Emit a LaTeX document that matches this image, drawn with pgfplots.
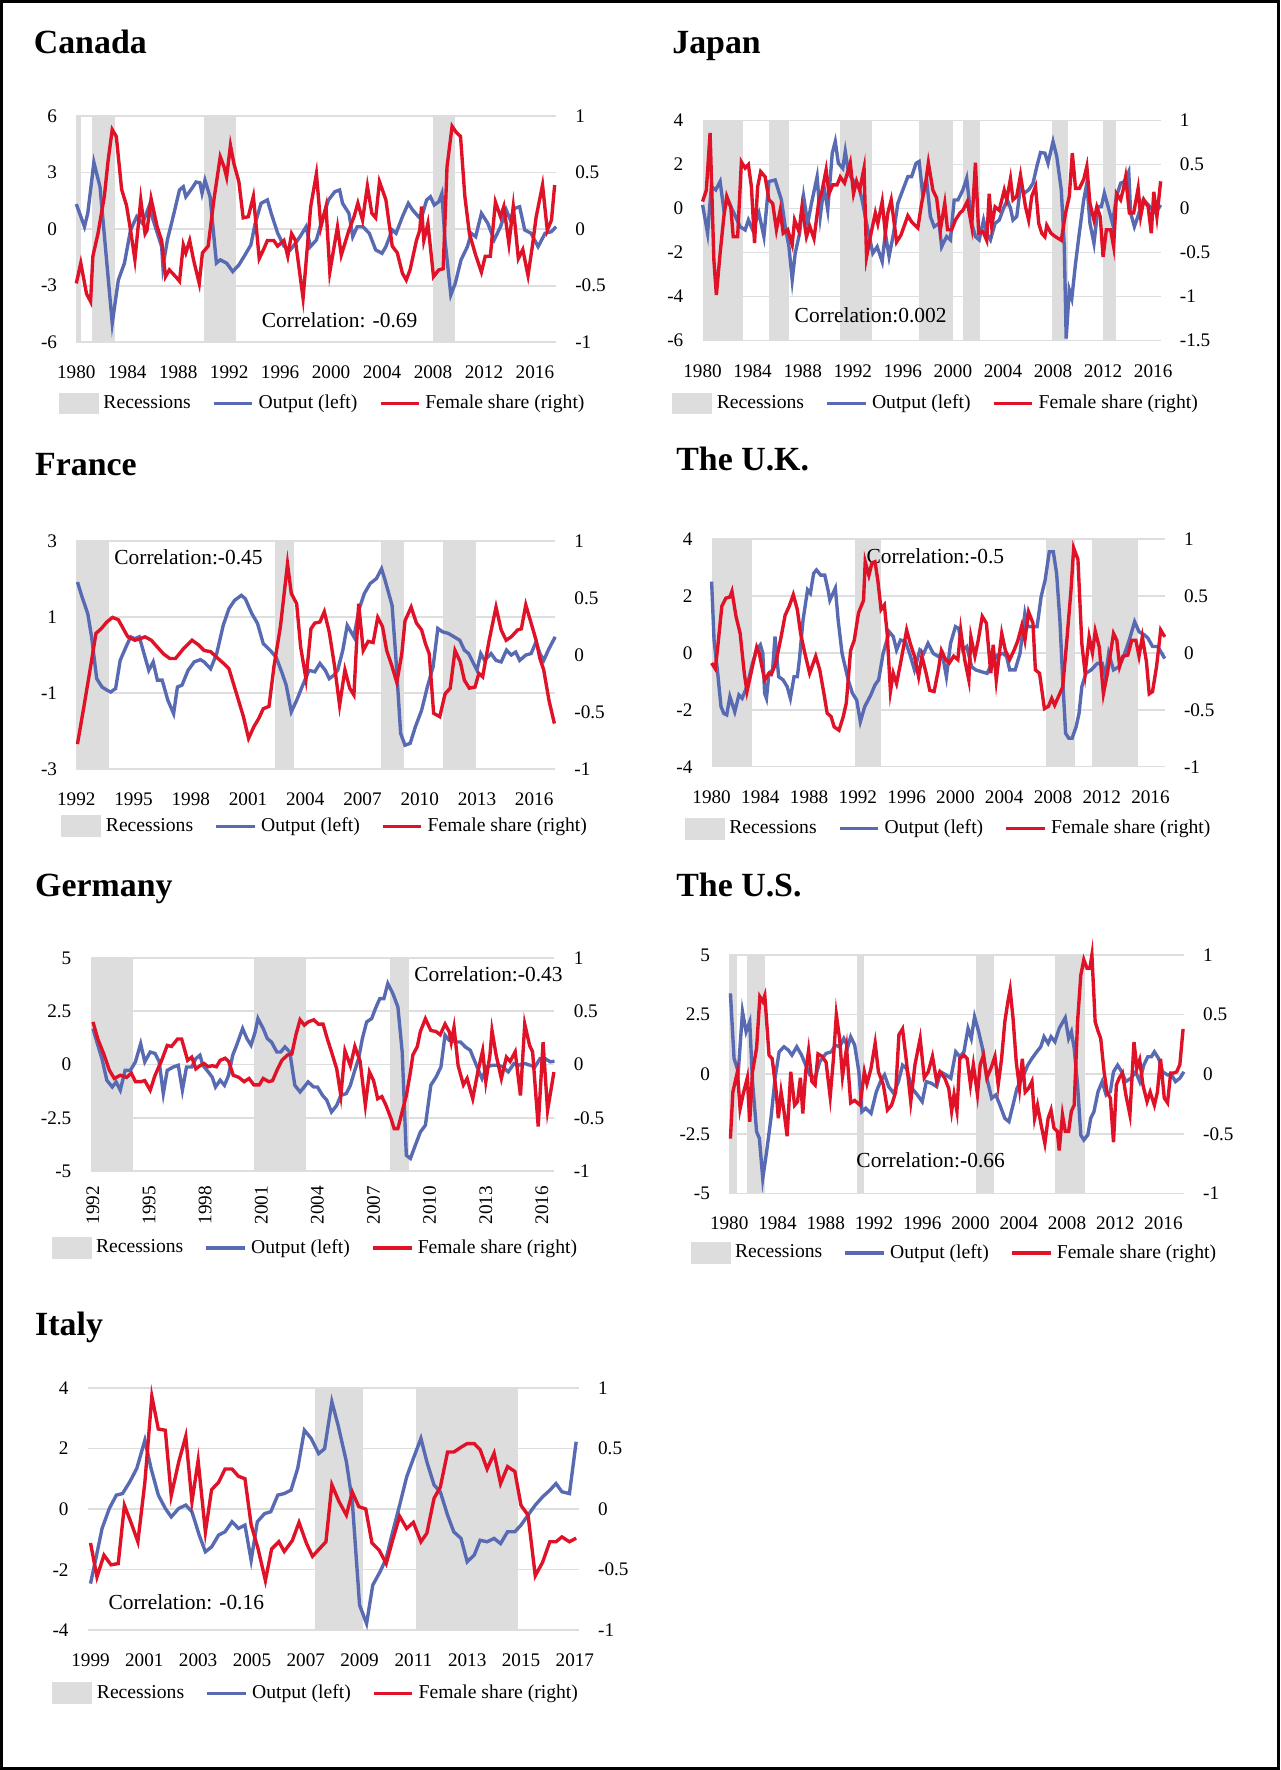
\documentclass[border=0pt]{standalone}
\usepackage{fontspec}
\setmainfont{Liberation Serif}
\usepackage{pgfplots}
\pgfplotsset{compat=1.18}

\definecolor{outc}{RGB}{88,106,178}
\definecolor{femc}{RGB}{224,18,40}
\definecolor{recc}{RGB}{221,221,221}
\definecolor{gridc}{RGB}{222,222,222}

\newcommand\ticksize{\fontsize{8.5}{10}\selectfont}
\newcommand\legsize{\fontsize{8.7}{10}\selectfont}
\newcommand\corrsize{\fontsize{9.5}{11}\selectfont}
\newcommand\titsize{\fontsize{15}{18}\selectfont\bfseries}

\tikzset{corr/.style={font=\corrsize}}
\pgfplotsset{
  panel/.style={scale only axis, anchor=south west, axis line style={draw=none},
    major tick length=0pt, tick style={draw=none},
    /pgf/number format/assume math mode=true, /pgf/number format/1000 sep={},
    tick label style={font=\ticksize}, xticklabel shift=7pt, yticklabel shift=5pt, clip=false},
  leftax/.style={panel, ymajorgrids, grid style={gridc, line width=0.7pt}, yticklabel pos=left,
    legend style={draw=none, fill=none, inner sep=0pt, font=\legsize, legend columns=3, anchor=west,
      /tikz/every even column/.append style={column sep=7.5pt}}},
  rightax/.style={panel, yticklabel pos=right, xtick=\empty},
  outp/.style={color=outc, line width=1.5pt},
  fem/.style={color=femc, line width=1.5pt},
  rec/.style={fill=recc, draw=none},
  recleg/.style={legend image code/.code={\fill[recc] (0pt,-4.8pt) rectangle (17.7pt,4.8pt);}},
}

\begin{document}
\begin{tikzpicture}
\useasboundingbox (0,0) rectangle (567pt,-784pt);
\draw[line width=1.5pt] (0.75pt,-0.75pt) rectangle (566.25pt,-783.25pt);

% titles
\node[anchor=base west, inner sep=0pt, font=\titsize] at (14.8pt,-23.6pt) {Canada};
\node[anchor=base west, inner sep=0pt, font=\titsize] at (297.6pt,-23.6pt) {Japan};
\node[anchor=base west, inner sep=0pt, font=\titsize] at (15.4pt,-210.4pt) {France};
\node[anchor=base west, inner sep=0pt, font=\titsize] at (299.4pt,-208.5pt) {The U.K.};
\node[anchor=base west, inner sep=0pt, font=\titsize] at (15.4pt,-397.2pt) {Germany};
\node[anchor=base west, inner sep=0pt, font=\titsize] at (299.4pt,-397.2pt) {The U.S.};
\node[anchor=base west, inner sep=0pt, font=\titsize] at (15.4pt,-591.4pt) {Italy};

% ---------------- Canada
\begin{axis}[leftax, at={(33.8pt,-151.6pt)}, width=212.5pt, height=100.2pt,
  xmin=1980, xmax=2017.66, ymin=-6, ymax=6, ytick={-6,-3,0,3,6},
  xtick={1980,1984,...,2016}, legend style={at={(-0.037,-0.27)}}]
\addplot[rec, recleg] coordinates {(1980,-6)(1980,6)(1980.4,6)(1980.4,-6)} -- cycle;
\addlegendentry{Recessions}
\addplot[rec, forget plot] coordinates {(1981.2,-6)(1981.2,6)(1983.0,6)(1983.0,-6)} -- cycle;
\addplot[rec, forget plot] coordinates {(1990.0,-6)(1990.0,6)(1992.5,6)(1992.5,-6)} -- cycle;
\addplot[rec, forget plot] coordinates {(2008.0,-6)(2008.0,6)(2009.7,6)(2009.7,-6)} -- cycle;
\addplot[outp] coordinates {(1980.0,1.33)(1980.64,0.13)(1980.9,0.84)(1981.38,3.54)(1981.86,2.25)(1982.82,-4.99)(1983.3,-2.7)(1983.78,-1.8)(1984.26,-0.04)(1984.74,0.66)(1985.2,0.3)(1985.7,1.2)(1986.2,0.13)(1986.7,-0.93)(1986.8,-2.0)(1987.15,-0.57)(1987.6,0.66)(1988.1,2.08)(1988.4,2.25)(1988.6,1.72)(1989.07,2.16)(1989.4,2.5)(1989.7,2.46)(1989.87,1.9)(1990.1,2.6)(1990.5,1.72)(1991.0,-1.8)(1991.3,-1.63)(1991.8,-1.8)(1992.28,-2.25)(1992.76,-1.9)(1993.24,-1.37)(1993.7,-0.84)(1994.04,0.3)(1994.5,1.37)(1995.0,1.55)(1995.3,0.84)(1995.8,-0.2)(1996.3,-0.9)(1996.8,-1.1)(1997.2,-0.75)(1997.56,-0.4)(1998.04,0.13)(1998.37,-0.93)(1998.85,-0.57)(1999.3,0.49)(1999.8,1.55)(2000.3,1.99)(2000.67,2.08)(2000.9,1.37)(2001.4,0.84)(2001.7,-0.4)(2002.05,0.13)(2002.5,0.13)(2003.0,-0.22)(2003.5,-1.1)(2004.0,-1.28)(2004.3,-0.93)(2004.8,-0.04)(2005.1,-0.22)(2005.6,0.66)(2006.06,1.37)(2006.4,1.02)(2006.86,0.66)(2007.2,0.84)(2007.5,1.55)(2007.8,1.72)(2008.1,1.28)(2008.46,1.46)(2008.7,1.9)(2008.94,-0.57)(2009.4,-3.49)(2009.75,-2.87)(2010.2,-1.63)(2010.7,-0.93)(2011.0,-0.22)(2011.35,-0.4)(2011.8,0.84)(2012.3,0.31)(2012.8,-0.57)(2013.3,0.13)(2013.75,1.02)(2014.07,0.49)(2014.4,1.1)(2014.8,1.19)(2015.2,-0.04)(2015.7,-0.22)(2016.25,-0.93)(2016.8,-0.22)(2017.3,-0.13)(2017.66,0.13)};
\addlegendentry{Output (left)}
\addlegendimage{fem}
\addlegendentry{Female share (right)}
\node[corr] at (axis cs:2000.67,-4.85) {Correlation: -0.69};
\end{axis}
\begin{axis}[rightax, at={(33.8pt,-151.6pt)}, width=212.5pt, height=100.2pt,
  xmin=1980, xmax=2017.66, ymin=-1, ymax=1, ytick={-1,-0.5,0,0.5,1}]
\addplot[fem] coordinates {(1980.0,-0.48)(1980.35,-0.30)(1980.8,-0.57)(1981.12,-0.64)(1981.3,-0.24)(1981.7,-0.04)(1982.2,0.29)(1982.5,0.61)(1982.82,0.88)(1983.14,0.82)(1983.56,0.35)(1983.94,0.21)(1984.26,-0.01)(1984.6,-0.27)(1985.06,0.26)(1985.4,-0.04)(1985.55,-0.01)(1985.87,0.27)(1986.35,0.02)(1986.7,-0.10)(1987.0,-0.42)(1987.3,-0.36)(1987.8,-0.42)(1988.1,-0.46)(1988.4,-0.14)(1988.6,-0.21)(1988.9,-0.10)(1989.2,-0.27)(1989.65,-0.48)(1989.9,-0.21)(1990.35,-0.15)(1990.8,0.26)(1991.3,0.64)(1991.6,0.55)(1991.8,0.46)(1992.1,0.74)(1992.37,0.58)(1992.76,0.42)(1993.1,0.10)(1993.5,0.11)(1993.9,0.29)(1994.36,-0.26)(1994.7,-0.18)(1995.0,-0.10)(1995.5,-0.10)(1995.8,-0.15)(1996.3,-0.10)(1996.6,-0.24)(1996.9,-0.04)(1997.2,-0.10)(1997.8,-0.61)(1998.4,0.20)(1998.85,0.49)(1999.2,0.02)(1999.6,0.20)(1999.9,-0.38)(2000.5,0.02)(2000.8,-0.23)(2001.4,-0.01)(2001.8,0.11)(2002.1,0.23)(2002.47,0.08)(2002.85,0.38)(2003.2,0.14)(2003.5,0.10)(2003.8,0.42)(2004.3,0.26)(2004.8,-0.15)(2005.2,-0.21)(2005.6,-0.39)(2005.9,-0.45)(2006.2,-0.36)(2006.7,-0.10)(2006.96,-0.01)(2007.1,0.20)(2007.28,-0.10)(2007.6,0.05)(2008.04,-0.42)(2008.46,-0.36)(2008.8,-0.35)(2009.1,0.55)(2009.5,0.91)(2009.8,0.86)(2010.16,0.82)(2010.5,0.29)(2010.86,-0.04)(2011.35,-0.23)(2011.8,-0.38)(2012.1,-0.24)(2012.5,-0.24)(2012.9,0.24)(2013.3,0.11)(2013.56,0.20)(2013.96,-0.13)(2014.3,0.20)(2014.7,-0.26)(2015.05,-0.18)(2015.46,-0.41)(2015.8,-0.15)(2016.1,0.11)(2016.6,0.39)(2016.97,-0.01)(2017.3,0.08)(2017.55,0.39)};
\end{axis}

% ---------------- Japan
\begin{axis}[leftax, at={(311.2pt,-150.9pt)}, width=202.9pt, height=97.5pt,
  xmin=1980, xmax=2016.6, ymin=-6, ymax=4, ytick={-6,-4,-2,0,2,4},
  xtick={1980,1984,...,2016}, legend style={at={(-0.067,-0.285)}}]
\addplot[rec, recleg] coordinates {(1980,-6)(1980,4)(1983.2,4)(1983.2,-6)} -- cycle;
\addlegendentry{Recessions}
\addplot[rec, forget plot] coordinates {(1985.3,-6)(1985.3,4)(1986.9,4)(1986.9,-6)} -- cycle;
\addplot[rec, forget plot] coordinates {(1991.0,-6)(1991.0,4)(1993.5,4)(1993.5,-6)} -- cycle;
\addplot[rec, forget plot] coordinates {(1997.3,-6)(1997.3,4)(2000.0,4)(2000.0,-6)} -- cycle;
\addplot[rec, forget plot] coordinates {(2000.8,-6)(2000.8,4)(2002.2,4)(2002.2,-6)} -- cycle;
\addplot[rec, forget plot] coordinates {(2007.9,-6)(2007.9,4)(2009.2,4)(2009.2,-6)} -- cycle;
\addplot[rec, forget plot] coordinates {(2012.0,-6)(2012.0,4)(2013.0,4)(2013.0,-6)} -- cycle;
\addplot[outp] coordinates {(1980.0,0.17)(1980.4,-1.12)(1980.7,1.0)(1981.05,0.85)(1981.4,1.23)(1981.7,-0.06)(1982.0,0.39)(1982.5,-0.2)(1983.0,-0.82)(1983.4,-0.97)(1983.66,-0.52)(1984.0,-0.97)(1984.5,-0.2)(1984.9,-1.27)(1985.3,1.23)(1985.8,1.3)(1986.3,0.39)(1986.6,-0.82)(1986.9,-1.73)(1987.16,-3.24)(1987.4,-2.03)(1987.75,-1.12)(1988.07,0.55)(1988.4,-0.67)(1988.7,0.24)(1989.15,1.45)(1989.4,-0.36)(1989.7,1.0)(1990.0,-0.06)(1990.36,2.52)(1990.6,3.05)(1990.85,2.06)(1991.2,1.83)(1991.4,2.6)(1991.67,1.6)(1992.0,1.3)(1992.5,1.0)(1992.8,0.24)(1993.1,-0.67)(1993.6,-2.03)(1993.95,-1.73)(1994.35,-2.41)(1994.6,-1.12)(1994.9,-2.18)(1995.26,-1.12)(1995.6,0.24)(1995.9,0.7)(1996.4,1.45)(1996.7,1.45)(1997.06,2.06)(1997.3,2.14)(1997.55,0.85)(1997.9,1.3)(1998.2,-0.36)(1998.5,-0.82)(1998.9,-0.67)(1999.1,-1.73)(1999.5,-1.27)(1999.8,-1.42)(2000.1,0.39)(2000.4,0.39)(2000.8,0.85)(2001.1,1.38)(2001.5,-0.67)(2001.8,-1.27)(2002.1,-1.42)(2002.45,-0.52)(2002.7,-1.12)(2003.0,-1.42)(2003.37,-0.67)(2003.7,-0.52)(2004.1,0.09)(2004.35,0.39)(2004.6,0.02)(2004.8,-0.52)(2005.1,-0.36)(2005.4,1.0)(2005.7,0.7)(2006.05,0.85)(2006.4,1.15)(2006.7,1.9)(2007.0,2.55)(2007.35,2.52)(2007.6,2.06)(2008.0,3.05)(2008.3,2.36)(2008.66,0.85)(2008.9,-1.73)(2009.05,-5.9)(2009.3,-3.7)(2009.5,-4.08)(2009.8,-2.48)(2010.1,-1.12)(2010.45,0.39)(2010.7,1.15)(2010.95,-0.67)(2011.27,-1.58)(2011.6,0.09)(2011.86,0.09)(2012.1,0.7)(2012.4,0.09)(2012.75,-0.67)(2013.07,0.55)(2013.4,1.15)(2013.7,1.23)(2014.05,1.68)(2014.2,-0.2)(2014.5,-0.82)(2014.87,-0.2)(2015.2,0.39)(2015.5,0.24)(2015.85,0.02)(2016.2,-0.2)(2016.6,0.17)};
\addlegendentry{Output (left)}
\addlegendimage{fem}
\addlegendentry{Female share (right)}
\node[corr] at (axis cs:1993.43,-4.83) {Correlation:0.002};
\end{axis}
\begin{axis}[rightax, at={(311.2pt,-150.9pt)}, width=202.9pt, height=97.5pt,
  xmin=1980, xmax=2016.6, ymin=-1.5, ymax=1, ytick={-1.5,-1,-0.5,0,0.5,1}]
\addplot[fem] coordinates {(1980.0,0.08)(1980.3,0.21)(1980.6,0.86)(1980.9,-0.58)(1981.1,-0.98)(1981.4,-0.51)(1981.7,-0.09)(1981.93,0.14)(1982.25,0.02)(1982.45,-0.32)(1982.8,-0.32)(1983.1,0.53)(1983.4,0.46)(1983.66,0.50)(1983.9,0.25)(1984.15,-0.39)(1984.4,0.25)(1984.64,0.42)(1985.0,0.36)(1985.3,0.10)(1985.6,0.06)(1985.9,-0.24)(1986.2,-0.02)(1986.44,-0.28)(1986.8,-0.24)(1987.16,-0.41)(1987.35,-0.13)(1987.7,-0.26)(1987.94,0.02)(1988.3,-0.32)(1988.56,-0.20)(1988.9,-0.34)(1989.3,0.10)(1989.5,0.17)(1989.87,0.44)(1990.1,0.17)(1990.4,0.27)(1990.75,0.27)(1991.0,0.36)(1991.34,0.29)(1991.8,0.52)(1992.06,0.17)(1992.3,0.31)(1992.55,0.21)(1992.9,0.46)(1993.1,-0.55)(1993.46,-0.28)(1993.8,-0.05)(1994.0,-0.17)(1994.35,0.08)(1994.6,-0.28)(1994.8,-0.05)(1995.07,0.10)(1995.5,-0.38)(1995.85,-0.30)(1996.4,-0.08)(1996.7,-0.15)(1997.2,-0.22)(1997.5,0.06)(1997.8,0.27)(1998.04,0.52)(1998.4,0.21)(1998.7,0.12)(1999.0,-0.24)(1999.35,0.06)(1999.57,-0.24)(1999.9,-0.24)(2000.2,-0.13)(2000.56,-0.05)(2000.8,-0.02)(2001.15,0.08)(2001.5,-0.20)(2001.8,0.52)(2002.06,-0.28)(2002.4,-0.26)(2002.7,-0.36)(2002.9,0.17)(2003.1,-0.20)(2003.37,0.02)(2003.7,-0.02)(2004.1,0.21)(2004.3,0.10)(2004.6,0.34)(2004.8,0.10)(2005.1,0.14)(2005.4,0.38)(2005.8,0.02)(2006.05,-0.13)(2006.3,0.14)(2006.6,0.25)(2006.86,-0.17)(2007.1,-0.28)(2007.35,-0.32)(2007.5,-0.19)(2007.84,-0.28)(2008.2,-0.32)(2008.66,-0.36)(2009.0,-0.05)(2009.3,0.14)(2009.54,0.63)(2009.8,0.23)(2010.1,0.23)(2010.45,0.33)(2010.7,0.48)(2010.95,0.06)(2011.27,-0.13)(2011.5,0.02)(2011.77,-0.09)(2012.0,-0.55)(2012.26,-0.24)(2012.6,-0.24)(2012.84,-0.43)(2013.07,0.17)(2013.4,0.10)(2013.6,0.21)(2013.8,0.36)(2014.1,-0.05)(2014.44,-0.05)(2014.8,0.23)(2015.0,-0.09)(2015.26,0.10)(2015.6,0.02)(2015.85,-0.28)(2016.05,0.19)(2016.3,-0.09)(2016.6,0.31)};
\end{axis}

% ---------------- France
\begin{axis}[leftax, at={(33.8pt,-340.7pt)}, width=212.1pt, height=101.1pt,
  xmin=1992, xmax=2017.1, ymin=-3, ymax=3, ytick={-3,-1,1,3},
  xtick={1992,1995,...,2016}, legend style={at={(-0.032,-0.25)}}]
\addplot[rec, recleg] coordinates {(1992,-3)(1992,3)(1993.7,3)(1993.7,-3)} -- cycle;
\addlegendentry{Recessions}
\addplot[rec, forget plot] coordinates {(2002.4,-3)(2002.4,3)(2003.4,3)(2003.4,-3)} -- cycle;
\addplot[rec, forget plot] coordinates {(2007.95,-3)(2007.95,3)(2009.2,3)(2009.2,-3)} -- cycle;
\addplot[rec, forget plot] coordinates {(2011.2,-3)(2011.2,3)(2012.95,3)(2012.95,-3)} -- cycle;
\addplot[outp] coordinates {(1992.06,1.92)(1992.3,1.53)(1992.6,1.09)(1992.8,0.48)(1993.07,-0.62)(1993.35,-0.84)(1993.6,-0.92)(1993.8,-0.97)(1994.06,-0.88)(1994.3,-0.14)(1994.6,0.21)(1994.85,0.48)(1995.07,0.43)(1995.3,0.48)(1995.6,-0.05)(1995.8,-0.40)(1996.03,-0.18)(1996.25,-0.66)(1996.5,-0.66)(1996.8,-1.19)(1997.1,-1.54)(1997.3,-0.84)(1997.54,-0.79)(1997.86,-0.40)(1998.18,-0.18)(1998.5,-0.12)(1998.7,-0.18)(1999.04,-0.36)(1999.36,0.04)(1999.7,0.78)(2000.0,1.22)(2000.3,1.44)(2000.65,1.57)(2000.86,1.48)(2001.2,1.09)(2001.5,0.83)(2001.8,0.30)(2002.15,0.13)(2002.47,-0.05)(2002.8,-0.49)(2003.0,-0.79)(2003.27,-1.49)(2003.55,-1.19)(2003.87,-0.79)(2004.2,-0.40)(2004.5,-0.44)(2004.77,-0.22)(2005.05,-0.40)(2005.26,-0.62)(2005.5,-0.53)(2005.7,-0.40)(2005.97,0.13)(2006.2,0.78)(2006.55,0.48)(2006.83,1.22)(2007.1,1.62)(2007.4,1.88)(2007.73,2.01)(2008.0,2.27)(2008.16,2.01)(2008.55,1.31)(2008.76,-0.14)(2009.0,-2.06)(2009.23,-2.37)(2009.5,-2.32)(2009.77,-1.89)(2010.1,-1.45)(2010.4,-0.84)(2010.7,-0.31)(2010.95,0.70)(2011.2,0.61)(2011.5,0.57)(2011.8,0.48)(2012.1,0.39)(2012.34,0.13)(2012.56,0.04)(2013.0,-0.40)(2013.2,0.04)(2013.4,-0.14)(2013.74,0.04)(2014.0,-0.14)(2014.27,-0.18)(2014.55,0.13)(2014.8,0.00)(2015.03,0.08)(2015.24,-0.14)(2015.56,0.00)(2015.84,0.04)(2016.1,0.35)(2016.3,0.04)(2016.5,-0.14)(2016.74,0.13)(2017.1,0.48)};
\addlegendentry{Output (left)}
\addlegendimage{fem}
\addlegendentry{Female share (right)}
\node[corr] at (axis cs:1997.88,2.58) {Correlation:-0.45};
\end{axis}
\begin{axis}[rightax, at={(33.8pt,-340.7pt)}, width=212.1pt, height=101.1pt,
  xmin=1992, xmax=2017.1, ymin=-1, ymax=1, ytick={-1,-0.5,0,0.5,1}]
\addplot[fem] coordinates {(1992.06,-0.78)(1992.4,-0.45)(1992.75,-0.10)(1993.03,0.19)(1993.3,0.23)(1993.6,0.29)(1993.9,0.33)(1994.2,0.31)(1994.4,0.25)(1994.7,0.16)(1995.07,0.13)(1995.3,0.14)(1995.6,0.16)(1995.93,0.13)(1996.25,0.07)(1996.57,0.01)(1996.9,-0.03)(1997.2,-0.03)(1997.64,0.06)(1998.07,0.13)(1998.4,0.09)(1998.7,0.04)(1999.04,0.03)(1999.36,-0.02)(1999.7,-0.07)(2000.0,-0.12)(2000.4,-0.34)(2000.76,-0.54)(2001.03,-0.73)(2001.3,-0.63)(2001.55,-0.56)(2001.8,-0.47)(2002.1,-0.45)(2002.36,-0.10)(2002.7,0.25)(2003.07,0.80)(2003.27,0.54)(2003.55,0.45)(2003.76,0.07)(2004.04,-0.21)(2004.3,0.23)(2004.5,0.28)(2004.77,0.29)(2005.0,0.38)(2005.26,0.20)(2005.54,-0.10)(2005.8,-0.44)(2006.08,-0.13)(2006.33,-0.29)(2006.55,-0.35)(2006.8,0.45)(2007.04,0.04)(2007.3,0.12)(2007.56,0.11)(2007.8,0.33)(2008.05,0.25)(2008.27,0.04)(2008.55,-0.10)(2008.8,-0.24)(2009.06,0.01)(2009.23,0.30)(2009.55,0.42)(2009.83,0.28)(2010.1,0.22)(2010.3,0.10)(2010.5,0.01)(2010.73,-0.51)(2011.05,-0.54)(2011.33,-0.34)(2011.6,-0.29)(2011.85,0.04)(2012.13,-0.06)(2012.34,-0.22)(2012.6,-0.29)(2012.9,-0.28)(2013.1,-0.16)(2013.3,-0.19)(2013.64,0.13)(2014.0,0.42)(2014.27,0.22)(2014.53,0.13)(2014.8,0.16)(2015.13,0.22)(2015.33,0.23)(2015.56,0.44)(2015.84,0.28)(2016.1,0.13)(2016.3,-0.03)(2016.5,-0.13)(2016.78,-0.40)(2017.06,-0.60)};
\end{axis}

% ---------------- U.K.
\begin{axis}[leftax, at={(315.2pt,-339.6pt)}, width=200.7pt, height=100.9pt,
  xmin=1980, xmax=2017.17, ymin=-4, ymax=4, ytick={-4,-2,0,2,4},
  xtick={1980,1984,...,2016}, legend style={at={(-0.060,-0.272)}}]
\addplot[rec, recleg] coordinates {(1980.07,-4)(1980.07,4)(1983.35,4)(1983.35,-4)} -- cycle;
\addlegendentry{Recessions}
\addplot[rec, forget plot] coordinates {(1991.8,-4)(1991.8,4)(1993.9,4)(1993.9,-4)} -- cycle;
\addplot[rec, forget plot] coordinates {(2007.46,-4)(2007.46,4)(2009.8,4)(2009.8,-4)} -- cycle;
\addplot[rec, forget plot] coordinates {(2011.2,-4)(2011.2,4)(2015.0,4)(2015.0,-4)} -- cycle;
\addplot[outp] coordinates {(1980.0,2.5)(1980.2,0.45)(1980.5,-0.72)(1980.77,-1.89)(1981.0,-2.13)(1981.24,-2.18)(1981.5,-1.54)(1981.9,-2.07)(1982.24,-1.48)(1982.5,-1.6)(1982.9,-1.19)(1983.35,-0.37)(1983.7,0.10)(1984.0,0.28)(1984.2,-0.02)(1984.35,-1.42)(1984.5,-1.6)(1984.7,-0.72)(1985.0,-0.6)(1985.2,0.57)(1985.5,-0.84)(1985.86,-0.95)(1986.2,-1.19)(1986.46,-1.6)(1986.76,-0.84)(1987.03,-0.84)(1987.2,-0.25)(1987.5,1.15)(1987.87,2.21)(1988.1,2.09)(1988.37,2.79)(1988.6,2.91)(1988.94,2.73)(1989.28,2.73)(1989.55,2.21)(1989.7,1.85)(1990.15,2.27)(1990.38,1.15)(1990.7,-0.02)(1991.2,-0.95)(1991.55,-1.42)(1991.9,-1.66)(1992.2,-2.42)(1992.56,-1.89)(1993.06,-1.48)(1993.4,-1.13)(1993.7,-0.95)(1994.07,-0.02)(1994.57,0.74)(1994.9,0.57)(1995.17,0.10)(1995.5,0.45)(1995.9,0.39)(1996.24,-0.02)(1996.64,-0.6)(1997.08,0.10)(1997.4,-0.02)(1997.75,0.33)(1998.18,-0.02)(1998.6,-0.13)(1998.92,-0.02)(1999.26,-0.84)(1999.6,0.33)(2000.0,0.92)(2000.26,0.86)(2000.6,0.10)(2000.93,0.22)(2001.33,-0.49)(2001.67,-0.6)(2002.1,-0.66)(2002.6,-0.72)(2003.0,-0.37)(2003.44,-0.08)(2003.9,-0.02)(2004.2,-0.13)(2004.45,-0.6)(2004.9,-0.6)(2005.3,-0.02)(2005.7,1.39)(2005.95,0.92)(2006.3,0.92)(2006.7,0.92)(2007.03,1.97)(2007.36,2.56)(2007.7,3.55)(2008.03,3.55)(2008.3,2.79)(2008.57,1.15)(2008.8,-0.95)(2009.04,-2.83)(2009.3,-3.0)(2009.57,-3.0)(2009.9,-2.6)(2010.14,-2.13)(2010.37,-1.19)(2010.7,-0.72)(2011.14,-0.6)(2011.64,-0.37)(2012.04,-0.37)(2012.3,-0.84)(2012.57,-0.02)(2012.97,-0.6)(2013.4,-0.49)(2013.8,-0.13)(2014.26,0.45)(2014.7,1.09)(2015.06,0.74)(2015.5,0.63)(2015.8,0.51)(2016.17,0.22)(2016.6,0.22)(2017.17,-0.2)};
\addlegendentry{Output (left)}
\addlegendimage{fem}
\addlegendentry{Female share (right)}
\node[corr] at (axis cs:1998.35,3.40) {Correlation:-0.5};
\end{axis}
\begin{axis}[rightax, at={(315.2pt,-339.6pt)}, width=200.7pt, height=100.9pt,
  xmin=1980, xmax=2017.17, ymin=-1, ymax=1, ytick={-1,-0.5,0,0.5,1}]
\addplot[fem] coordinates {(1980.0,-0.09)(1980.3,-0.14)(1980.5,0.05)(1980.84,0.41)(1981.17,0.48)(1981.5,0.49)(1981.67,0.54)(1982.0,0.32)(1982.34,0.17)(1982.68,-0.18)(1982.9,-0.34)(1983.35,-0.12)(1983.7,0.05)(1983.9,0.00)(1984.35,-0.24)(1984.7,-0.18)(1984.9,-0.19)(1985.26,-0.09)(1985.7,0.14)(1986.03,0.33)(1986.37,0.41)(1986.7,0.51)(1987.03,0.38)(1987.3,0.17)(1987.64,0.00)(1988.04,-0.18)(1988.54,-0.03)(1988.87,-0.15)(1989.2,-0.35)(1989.48,-0.53)(1989.8,-0.56)(1990.05,-0.65)(1990.45,-0.68)(1990.8,-0.56)(1991.05,-0.44)(1991.4,0.02)(1991.7,0.11)(1992.05,0.35)(1992.46,0.46)(1992.6,0.80)(1992.9,0.68)(1993.16,0.79)(1993.4,0.80)(1993.63,0.64)(1993.9,0.38)(1994.17,0.42)(1994.4,0.17)(1994.67,-0.34)(1994.9,-0.18)(1995.17,-0.27)(1995.5,-0.09)(1996.0,0.20)(1996.3,0.08)(1996.64,-0.03)(1996.98,-0.21)(1997.25,-0.03)(1997.6,-0.18)(1997.9,-0.33)(1998.25,-0.34)(1998.6,-0.15)(1998.85,0.02)(1999.2,-0.06)(1999.5,-0.09)(1999.86,-0.03)(2000.2,-0.06)(2000.43,0.20)(2000.76,-0.06)(2001.1,-0.24)(2001.27,0.14)(2001.6,-0.03)(2001.87,0.11)(2002.2,0.32)(2002.54,0.26)(2002.9,-0.18)(2003.1,0.07)(2003.35,-0.24)(2003.8,0.17)(2004.1,0.02)(2004.45,-0.06)(2004.8,0.02)(2005.1,0.10)(2005.45,0.24)(2005.7,0.11)(2006.0,0.36)(2006.36,0.26)(2006.56,-0.15)(2006.9,-0.18)(2007.3,-0.49)(2007.63,-0.47)(2007.9,-0.40)(2008.14,-0.46)(2008.47,-0.38)(2008.8,-0.30)(2009.14,0.11)(2009.48,0.55)(2009.7,0.92)(2010.05,0.82)(2010.37,0.08)(2010.64,-0.18)(2010.97,0.14)(2011.24,0.00)(2011.47,0.19)(2011.8,0.05)(2012.14,-0.36)(2012.47,-0.18)(2012.97,0.17)(2013.24,0.11)(2013.47,-0.12)(2013.74,-0.03)(2014.14,-0.02)(2014.47,0.11)(2014.8,0.11)(2015.06,-0.03)(2015.33,0.14)(2015.67,-0.08)(2015.9,-0.36)(2016.17,-0.34)(2016.5,-0.12)(2016.84,0.20)(2017.17,0.14)};
\end{axis}

% ---------------- Germany
\begin{axis}[leftax, at={(40.1pt,-518.8pt)}, width=205.5pt, height=94.5pt,
  xmin=1991.87, xmax=2016.67, ymin=-5, ymax=5, ytick={-5,-2.5,0,2.5,5},
  xtick={1992,1995,...,2016}, xticklabel style={rotate=90, anchor=east}, xticklabel shift=3pt,
  legend style={at={(-0.085,-0.36)}}]
\addplot[rec, recleg] coordinates {(1991.87,-5)(1991.87,5)(1994.16,5)(1994.16,-5)} -- cycle;
\addlegendentry{Recessions}
\addplot[rec, forget plot] coordinates {(2000.6,-5)(2000.6,5)(2003.4,5)(2003.4,-5)} -- cycle;
\addplot[rec, forget plot] coordinates {(2007.87,-5)(2007.87,5)(2008.9,5)(2008.9,-5)} -- cycle;
\addplot[outp] coordinates {(1992.0,1.69)(1992.26,0.91)(1992.48,0.28)(1992.74,-0.73)(1993.03,-1.05)(1993.24,-0.81)(1993.46,-1.2)(1993.72,-0.27)(1994.0,-0.27)(1994.27,0.13)(1994.55,0.98)(1994.77,0.13)(1995.06,0.59)(1995.32,0.52)(1995.54,0.13)(1995.76,-1.36)(1995.97,-0.27)(1996.3,-0.11)(1996.56,-0.03)(1996.78,-1.2)(1997.0,-0.11)(1997.28,-0.11)(1997.5,0.28)(1997.72,0.44)(1997.87,-0.03)(1998.16,-0.34)(1998.37,-0.58)(1998.55,-1.05)(1998.8,-0.73)(1999.03,-0.97)(1999.25,-0.5)(1999.47,0.44)(1999.68,0.91)(2000.0,1.69)(2000.23,1.22)(2000.45,0.91)(2000.67,1.53)(2000.82,2.16)(2001.1,1.69)(2001.32,1.22)(2001.54,1.06)(2001.83,0.59)(2002.04,0.59)(2002.26,0.83)(2002.52,0.59)(2002.79,-0.97)(2003.07,-1.28)(2003.29,-1.05)(2003.5,-0.81)(2003.8,-1.05)(2004.0,-1.05)(2004.27,-1.44)(2004.5,-1.67)(2004.75,-2.22)(2005.03,-1.91)(2005.25,-1.44)(2005.54,-1.36)(2005.76,-0.97)(2005.97,-0.34)(2006.2,0.28)(2006.4,1.22)(2006.63,2.0)(2006.9,2.16)(2007.1,2.63)(2007.33,3.09)(2007.55,3.09)(2007.76,3.8)(2008.03,3.33)(2008.3,2.7)(2008.53,0.59)(2008.75,-4.25)(2008.97,-4.4)(2009.23,-3.78)(2009.5,-3.16)(2009.77,-2.84)(2010.06,-0.97)(2010.34,-0.58)(2010.6,-0.11)(2010.82,1.38)(2011.04,1.14)(2011.37,1.06)(2011.65,1.06)(2011.9,0.83)(2012.17,0.67)(2012.35,0.28)(2012.57,-0.19)(2012.8,-0.66)(2013.05,-0.11)(2013.33,-0.03)(2013.66,-0.03)(2013.92,-0.11)(2014.2,-0.34)(2014.5,0.05)(2014.75,-0.03)(2015.08,0.05)(2015.37,-0.03)(2015.62,-0.11)(2015.9,0.28)(2016.17,0.28)(2016.45,0.13)(2016.67,0.16)};
\addlegendentry{Output (left)}
\addlegendimage{fem}
\addlegendentry{Female share (right)}
\node[corr] at (axis cs:2013.14,4.22) {Correlation:-0.43};
\end{axis}
\begin{axis}[rightax, at={(40.1pt,-518.8pt)}, width=205.5pt, height=94.5pt,
  xmin=1991.87, xmax=2016.67, ymin=-1, ymax=1, ytick={-1,-0.5,0,0.5,1}]
\addplot[fem] coordinates {(1992.0,0.40)(1992.26,0.24)(1992.6,0.09)(1992.87,-0.05)(1993.14,-0.13)(1993.46,-0.10)(1993.8,-0.12)(1994.05,-0.08)(1994.27,-0.16)(1994.55,-0.16)(1994.77,-0.15)(1995.06,-0.24)(1995.32,-0.10)(1995.65,0.03)(1995.97,0.18)(1996.2,0.17)(1996.52,0.24)(1996.74,0.24)(1997.06,0.04)(1997.28,0.07)(1997.5,-0.04)(1997.72,-0.01)(1997.94,0.01)(1998.16,-0.02)(1998.37,-0.01)(1998.6,-0.02)(1998.8,0.04)(1999.07,0.06)(1999.25,0.03)(1999.5,-0.10)(1999.8,-0.12)(2000.08,-0.16)(2000.34,-0.13)(2000.6,-0.19)(2000.89,-0.19)(2001.1,-0.13)(2001.4,-0.16)(2001.6,-0.15)(2001.87,-0.04)(2002.1,0.04)(2002.4,0.09)(2002.63,0.10)(2002.85,0.28)(2003.07,0.42)(2003.3,0.37)(2003.5,0.40)(2003.8,0.42)(2004.05,0.38)(2004.3,0.38)(2004.53,0.24)(2004.75,0.12)(2005.03,-0.04)(2005.25,-0.29)(2005.47,0.13)(2005.76,-0.01)(2006.0,0.17)(2006.28,0.03)(2006.56,-0.38)(2006.78,-0.07)(2007.0,-0.15)(2007.22,-0.32)(2007.44,-0.30)(2007.66,-0.38)(2007.94,-0.51)(2008.1,-0.60)(2008.3,-0.60)(2008.53,-0.44)(2008.75,-0.29)(2008.97,-0.07)(2009.1,0.09)(2009.34,0.17)(2009.5,0.31)(2009.77,0.43)(2010.06,0.32)(2010.34,0.31)(2010.56,0.28)(2010.82,0.38)(2011.04,0.31)(2011.15,0.21)(2011.3,0.35)(2011.52,-0.01)(2011.8,-0.19)(2012.0,-0.13)(2012.3,-0.32)(2012.57,-0.07)(2012.83,0.13)(2013.0,-0.16)(2013.22,0.09)(2013.33,0.32)(2013.55,0.09)(2013.83,-0.13)(2014.1,0.07)(2014.3,0.03)(2014.57,0.12)(2014.85,-0.29)(2015.08,0.38)(2015.34,0.18)(2015.5,0.12)(2015.8,-0.58)(2016.06,0.21)(2016.3,-0.43)(2016.64,-0.07)};
\end{axis}

% ---------------- U.S.
\begin{axis}[leftax, at={(323.0pt,-528.6pt)}, width=201.4pt, height=105.6pt,
  xmin=1980, xmax=2017.7, ymin=-5, ymax=5, ytick={-5,-2.5,0,2.5,5},
  xtick={1980,1984,...,2016}, legend style={at={(-0.086,-0.25)}}]
\addplot[rec, recleg] coordinates {(1980.0,-5)(1980.0,5)(1980.68,5)(1980.68,-5)} -- cycle;
\addlegendentry{Recessions}
\addplot[rec, forget plot] coordinates {(1981.5,-5)(1981.5,5)(1982.95,5)(1982.95,-5)} -- cycle;
\addplot[rec, forget plot] coordinates {(1990.58,-5)(1990.58,5)(1991.2,5)(1991.2,-5)} -- cycle;
\addplot[rec, forget plot] coordinates {(2000.47,-5)(2000.47,5)(2001.93,5)(2001.93,-5)} -- cycle;
\addplot[rec, forget plot] coordinates {(2007.0,-5)(2007.0,5)(2009.46,5)(2009.46,-5)} -- cycle;
\addplot[outp] coordinates {(1980.1,3.39)(1980.4,0.66)(1980.75,0.10)(1981.1,2.62)(1981.4,1.78)(1981.7,2.20)(1981.93,-0.31)(1982.27,-2.41)(1982.5,-2.69)(1982.78,-4.37)(1983.1,-3.25)(1983.46,-1.85)(1983.8,-0.17)(1984.14,0.94)(1984.54,1.15)(1984.9,1.01)(1985.2,0.80)(1985.6,1.15)(1986.0,0.80)(1986.34,0.38)(1986.68,-0.03)(1987.12,-0.17)(1987.5,0.52)(1988.03,0.87)(1988.47,0.94)(1988.8,1.22)(1989.15,1.15)(1989.5,1.50)(1989.83,1.15)(1990.07,1.57)(1990.4,1.22)(1990.75,0.10)(1991.0,-1.57)(1991.32,-1.43)(1991.76,-1.64)(1992.2,-0.73)(1992.54,-0.31)(1992.88,-0.03)(1993.22,-0.52)(1993.63,-0.80)(1994.03,-0.31)(1994.37,0.38)(1994.7,0.24)(1995.15,-0.59)(1995.6,-0.87)(1996.0,-1.15)(1996.34,-0.31)(1996.75,-0.38)(1997.2,-0.52)(1997.52,0.10)(1997.97,-0.03)(1998.37,-0.17)(1998.78,0.94)(1999.12,0.73)(1999.46,0.94)(1999.8,1.92)(2000.07,1.50)(2000.34,2.41)(2000.68,1.78)(2001.0,1.08)(2001.36,-0.17)(2001.76,-1.01)(2002.1,-0.87)(2002.44,-1.29)(2002.85,-1.85)(2003.19,-1.99)(2003.53,-1.29)(2003.86,-0.59)(2004.3,-0.17)(2004.75,0.38)(2005.1,0.66)(2005.5,0.94)(2005.83,1.15)(2006.1,1.57)(2006.44,1.29)(2006.68,1.57)(2007.0,1.36)(2007.36,1.92)(2007.86,2.37)(2008.14,1.50)(2008.37,1.78)(2008.6,1.08)(2008.88,-0.45)(2009.15,-2.55)(2009.4,-2.76)(2009.73,-2.55)(2009.97,-1.85)(2010.24,-1.57)(2010.58,-0.73)(2010.92,-0.31)(2011.25,-0.87)(2011.6,-0.73)(2011.86,0.10)(2012.2,0.38)(2012.54,0.10)(2012.88,-0.31)(2013.3,-0.17)(2013.7,0.10)(2014.03,-0.31)(2014.37,0.38)(2014.7,0.73)(2015.0,0.73)(2015.25,0.94)(2015.6,0.66)(2015.93,0.10)(2016.34,-0.03)(2016.68,-0.03)(2017.0,-0.31)(2017.36,-0.17)(2017.7,0.10)};
\addlegendentry{Output (left)}
\addlegendimage{fem}
\addlegendentry{Female share (right)}
\node[corr] at (axis cs:1996.7,-3.6) {Correlation:-0.66};
\end{axis}
\begin{axis}[rightax, at={(323.0pt,-528.6pt)}, width=201.4pt, height=105.6pt,
  xmin=1980, xmax=2017.7, ymin=-1, ymax=1, ytick={-1,-0.5,0,0.5,1}]
\addplot[fem] coordinates {(1980.1,-0.54)(1980.3,-0.15)(1980.68,0.02)(1980.9,-0.29)(1981.15,-0.17)(1981.5,-0.03)(1981.7,-0.40)(1981.93,0.02)(1982.27,0.22)(1982.54,0.65)(1982.78,0.61)(1982.95,0.66)(1983.3,0.16)(1983.56,0.13)(1983.9,-0.15)(1984.07,-0.37)(1984.3,-0.15)(1984.54,-0.31)(1984.8,-0.52)(1985.1,0.02)(1985.42,-0.26)(1985.66,-0.23)(1985.9,-0.03)(1986.1,-0.33)(1986.34,0.02)(1986.58,0.20)(1986.85,-0.06)(1987.12,-0.09)(1987.36,0.17)(1987.7,0.15)(1988.03,0.10)(1988.37,-0.19)(1988.64,0.13)(1988.88,0.50)(1989.15,0.30)(1989.39,-0.02)(1989.73,0.22)(1990.07,-0.24)(1990.4,-0.22)(1990.85,-0.26)(1991.2,0.02)(1991.42,-0.08)(1991.76,0.05)(1992.1,0.26)(1992.37,0.02)(1992.78,-0.09)(1993.12,-0.30)(1993.46,-0.26)(1993.8,-0.15)(1994.07,0.33)(1994.37,0.38)(1994.7,0.10)(1995.05,-0.23)(1995.4,0.08)(1995.83,0.30)(1996.17,-0.03)(1996.5,0.02)(1996.85,0.15)(1997.2,-0.06)(1997.46,0.02)(1997.86,-0.03)(1998.2,-0.12)(1998.44,-0.31)(1998.64,-0.17)(1998.88,-0.31)(1999.12,0.13)(1999.46,0.16)(1999.73,0.13)(2000.0,-0.09)(2000.24,0.08)(2000.58,-0.17)(2000.81,0.08)(2001.08,0.16)(2001.36,-0.03)(2001.7,0.05)(2002.03,0.15)(2002.3,-0.09)(2002.58,0.13)(2002.85,0.44)(2003.12,0.62)(2003.29,0.71)(2003.53,0.47)(2003.8,0.10)(2004.07,-0.12)(2004.3,0.13)(2004.54,-0.15)(2004.81,-0.12)(2005.1,-0.06)(2005.32,-0.37)(2005.56,-0.26)(2005.83,-0.41)(2006.17,-0.58)(2006.44,-0.37)(2006.68,-0.30)(2006.92,-0.45)(2007.2,-0.48)(2007.36,-0.64)(2007.63,-0.34)(2007.86,-0.48)(2008.14,-0.48)(2008.37,-0.31)(2008.6,-0.26)(2008.88,0.44)(2009.15,0.83)(2009.4,0.96)(2009.66,0.89)(2009.9,0.89)(2010.07,1.00)(2010.34,0.44)(2010.58,0.36)(2010.8,0.30)(2011.08,0.02)(2011.32,-0.15)(2011.6,-0.20)(2011.86,-0.57)(2012.1,-0.09)(2012.34,-0.03)(2012.6,0.01)(2012.88,-0.17)(2013.22,-0.34)(2013.56,0.27)(2013.8,0.05)(2014.03,0.12)(2014.3,-0.09)(2014.64,-0.23)(2014.9,-0.15)(2015.25,-0.26)(2015.5,-0.15)(2015.76,0.13)(2016.07,-0.20)(2016.34,-0.24)(2016.6,0.01)(2016.85,0.01)(2017.1,0.02)(2017.36,0.08)(2017.63,0.38)};
\end{axis}

% ---------------- Italy
\begin{axis}[leftax, at={(38.9pt,-722.1pt)}, width=217.5pt, height=107.4pt,
  xmin=1998.9, xmax=2017.15, ymin=-4, ymax=4, ytick={-4,-2,0,2,4},
  xtick={1999,2001,...,2017}, legend style={at={(-0.073,-0.26)}}]
\addplot[rec, recleg] coordinates {(2007.33,-4)(2007.33,4)(2009.12,4)(2009.12,-4)} -- cycle;
\addlegendentry{Recessions}
\addplot[rec, forget plot] coordinates {(2011.08,-4)(2011.08,4)(2014.9,4)(2014.9,-4)} -- cycle;
\addplot[outp] coordinates {(1999.0,-2.46)(1999.2,-1.63)(1999.43,-0.64)(1999.7,0.02)(1999.96,0.46)(2000.19,0.51)(2000.46,0.90)(2000.72,1.34)(2001.02,2.27)(2001.25,1.34)(2001.52,0.46)(2001.78,0.02)(2002.0,-0.26)(2002.28,0.02)(2002.54,0.13)(2002.77,-0.09)(2003.04,-0.86)(2003.27,-1.41)(2003.5,-1.25)(2003.76,-0.86)(2004.0,-0.75)(2004.26,-0.42)(2004.5,-0.64)(2004.74,-0.53)(2004.97,-1.69)(2005.2,-0.42)(2005.47,-0.15)(2005.7,-0.09)(2005.96,0.46)(2006.2,0.51)(2006.45,0.62)(2006.7,1.34)(2006.95,2.60)(2007.2,2.33)(2007.48,1.83)(2007.7,1.99)(2007.97,3.54)(2008.2,2.77)(2008.51,1.56)(2008.73,0.24)(2009.0,-3.17)(2009.26,-3.78)(2009.49,-2.51)(2009.76,-2.07)(2009.99,-1.63)(2010.2,-0.86)(2010.49,0.13)(2010.75,1.06)(2011.0,1.67)(2011.28,2.33)(2011.5,1.56)(2011.77,0.79)(2012.0,0.57)(2012.27,-0.20)(2012.5,-0.75)(2012.77,-0.97)(2013.0,-1.74)(2013.26,-1.52)(2013.48,-1.03)(2013.74,-1.08)(2014.0,-0.97)(2014.24,-1.14)(2014.5,-0.75)(2014.77,-0.75)(2015.0,-0.53)(2015.26,-0.20)(2015.53,0.13)(2015.8,0.40)(2016.07,0.62)(2016.3,0.84)(2016.52,0.57)(2016.8,0.51)(2017.05,2.22)};
\addlegendentry{Output (left)}
\addlegendimage{fem}
\addlegendentry{Female share (right)}
\node[corr] at (axis cs:2002.56,-3.06) {Correlation: -0.16};
\end{axis}
\begin{axis}[rightax, at={(38.9pt,-722.1pt)}, width=217.5pt, height=107.4pt,
  xmin=1998.9, xmax=2017.15, ymin=-1, ymax=1, ytick={-1,-0.5,0,0.5,1}]
\addplot[fem] coordinates {(1999.0,-0.28)(1999.24,-0.56)(1999.5,-0.38)(1999.76,-0.46)(2000.03,-0.45)(2000.26,0.03)(2000.52,-0.12)(2000.76,-0.27)(2001.02,0.22)(2001.28,0.93)(2001.52,0.66)(2001.78,0.65)(2002.0,0.11)(2002.28,0.39)(2002.54,0.60)(2002.77,0.06)(2003.0,0.40)(2003.27,-0.19)(2003.5,0.16)(2003.76,0.22)(2004.0,0.33)(2004.26,0.33)(2004.5,0.27)(2004.74,0.25)(2004.97,-0.13)(2005.23,-0.33)(2005.5,-0.59)(2005.73,-0.33)(2006.0,-0.27)(2006.2,-0.35)(2006.5,-0.26)(2006.75,-0.11)(2007.02,-0.28)(2007.25,-0.39)(2007.5,-0.33)(2007.75,-0.27)(2007.97,0.20)(2008.24,0.06)(2008.51,-0.05)(2008.73,0.14)(2008.97,0.02)(2009.23,0.00)(2009.46,-0.28)(2009.73,-0.34)(2009.99,-0.45)(2010.25,-0.24)(2010.49,-0.06)(2010.75,-0.16)(2011.0,-0.11)(2011.28,-0.27)(2011.5,-0.20)(2011.77,0.09)(2012.0,0.18)(2012.27,0.47)(2012.5,0.47)(2012.77,0.51)(2013.0,0.54)(2013.26,0.54)(2013.48,0.49)(2013.74,0.33)(2014.0,0.46)(2014.24,0.21)(2014.5,0.35)(2014.77,0.31)(2015.0,0.03)(2015.26,-0.05)(2015.53,-0.55)(2015.8,-0.44)(2016.07,-0.27)(2016.3,-0.27)(2016.52,-0.23)(2016.8,-0.27)(2017.05,-0.24)};
\end{axis}

\end{tikzpicture}
\end{document}
